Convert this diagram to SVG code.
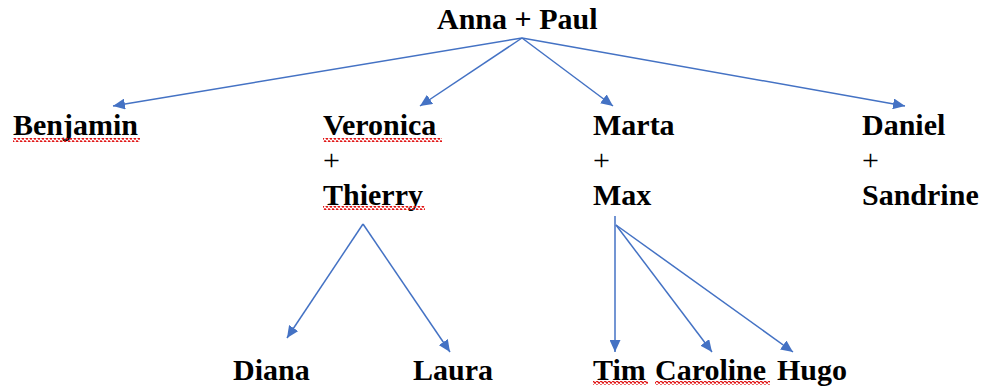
<svg xmlns="http://www.w3.org/2000/svg" width="984" height="390" viewBox="0 0 984 390">
<style>
text{font-family:"Liberation Serif","Times New Roman",serif;font-size:30px;font-weight:bold;fill:#000}
text.p{font-weight:normal}
.c line{stroke:#4472C4;stroke-width:1.5;fill:none}
.w{fill:url(#wave)}
</style>
<defs>
<marker id="ah" markerUnits="userSpaceOnUse" markerWidth="13" markerHeight="11" refX="12" refY="5.5" orient="auto">
<path d="M0,0 L12,5.5 L0,11 z" fill="#4472C4"/>
</marker>
<pattern id="wave" x="0" y="0" width="4" height="4" patternUnits="userSpaceOnUse">
<path d="M-1,2.5 L1,0.8 L3,3.2 L5,1.5" stroke="#E01010" stroke-width="1.3" fill="none"/>
</pattern>
</defs>
<g id="connectors" class="c">
<line x1="522" y1="38" x2="113" y2="106" marker-end="url(#ah)"/>
<line x1="522" y1="38" x2="420" y2="106" marker-end="url(#ah)"/>
<line x1="522" y1="38" x2="613" y2="106" marker-end="url(#ah)"/>
<line x1="522" y1="38" x2="905" y2="106" marker-end="url(#ah)"/>
<line x1="363" y1="224" x2="287" y2="338" marker-end="url(#ah)"/>
<line x1="363" y1="224" x2="450" y2="352" marker-end="url(#ah)"/>
<line x1="615" y1="216" x2="615" y2="352" marker-end="url(#ah)"/>
<line x1="616" y1="225" x2="712" y2="352" marker-end="url(#ah)"/>
<line x1="616" y1="225" x2="793" y2="352" marker-end="url(#ah)"/>
</g>
<g id="root"><text x="437" y="29">Anna + Paul</text></g>
<g id="benjamin"><text x="13" y="135">Benjamin</text><rect class="w" x="13" y="138" width="127" height="4"/></g>
<g id="veronica-thierry">
<text x="323" y="135">Veronica</text><rect class="w" x="323" y="138" width="119" height="4"/>
<text class="p" x="323" y="170">+</text>
<text x="323" y="205">Thierry</text><rect class="w" x="323" y="206" width="102" height="4"/>
</g>
<g id="marta-max">
<text x="593" y="135">Marta</text>
<text class="p" x="593" y="170">+</text>
<text x="593" y="205">Max</text>
</g>
<g id="daniel-sandrine">
<text x="862" y="135">Daniel</text>
<text class="p" x="862" y="170">+</text>
<text x="862" y="205">Sandrine</text>
</g>
<g id="diana"><text x="233" y="380">Diana</text></g>
<g id="laura"><text x="413" y="380">Laura</text></g>
<g id="tim"><text x="593" y="380">Tim</text><rect class="w" x="593" y="381" width="55" height="4"/></g>
<g id="caroline"><text x="655" y="380">Caroline</text><rect class="w" x="655" y="381" width="115" height="4"/></g>
<g id="hugo"><text x="777" y="380">Hugo</text></g>
</svg>
